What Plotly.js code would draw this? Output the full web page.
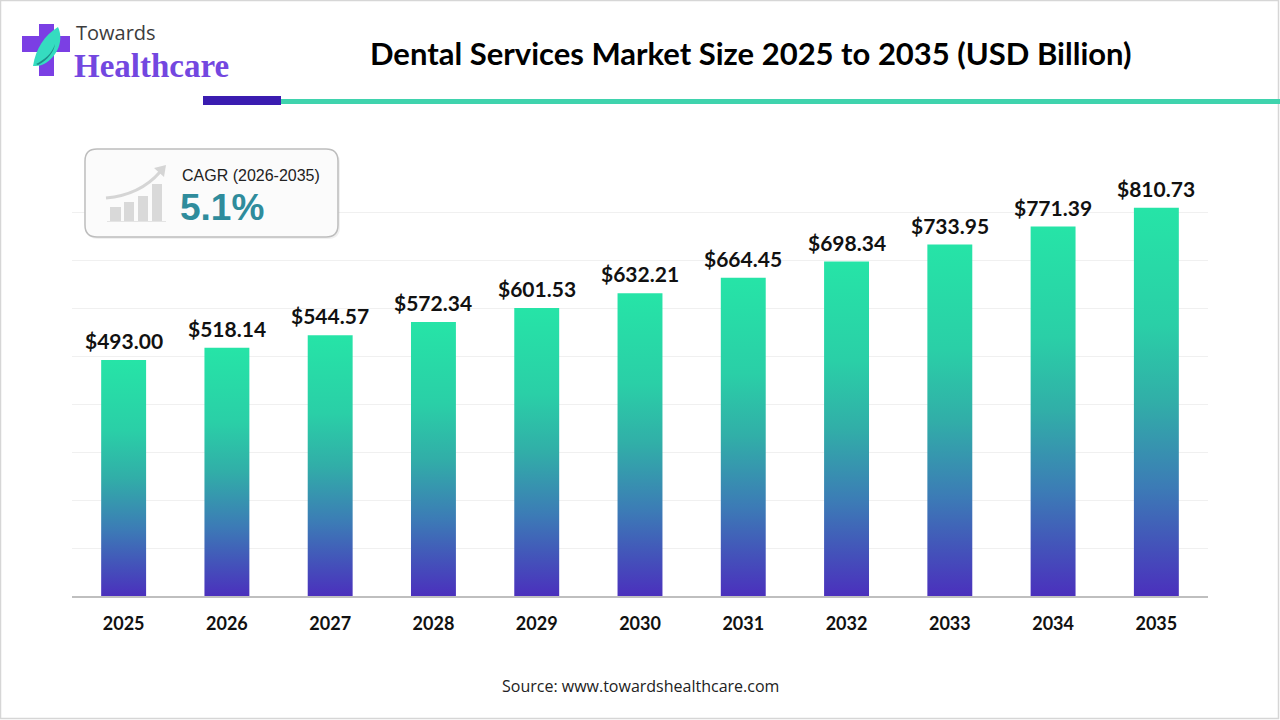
<!DOCTYPE html>
<html>
<head>
<meta charset="utf-8">
<script src="https://cdn.plot.ly/plotly-3.0.1.min.js"></script>
<style>
html,body{margin:0;padding:0;background:#fff;}
#chart{width:1280px;height:720px;}
</style>
</head>
<body>
<div id="chart"></div>
<script>
// ---- data ----
const years = ['2025','2026','2027','2028','2029','2030','2031','2032','2033','2034','2035'];
const marketSize = [493.00, 518.14, 544.57, 572.34, 601.53, 632.21, 664.45, 698.34, 733.95, 771.39, 810.73];
const cagrLabel = 'CAGR (2026-2035)';
const cagrValue = '5.1%';
const titleText = 'Dental Services Market Size 2025 to 2035 (USD Billion)';
const sourceText = 'Source: www.towardshealthcare.com';

// ---- layout geometry (pixels) ----
const W = 1280, H = 720;
const M = {l:72, r:72, t:165, b:124};
const PW = W - M.l - M.r, PH = H - M.t - M.b;
const px = x => (x - M.l) / PW;
const py = y => (H - M.b - y) / PH;
function pathPx(str){
  const toks = str.match(/[A-Za-z]|-?\d*\.?\d+/g);
  let out = [], isX = true;
  toks.forEach(t => {
    if (/[A-Za-z]/.test(t)) { out.push(t); isX = true; }
    else { const v = parseFloat(t); out.push((isX ? px(v) : py(v)).toFixed(5)); isX = !isX; }
  });
  return out.join(' ');
}
function roundRect(x0,y0,x1,y1,r){
  return `M ${x0+r} ${y0} L ${x1-r} ${y0} Q ${x1} ${y0} ${x1} ${y0+r} L ${x1} ${y1-r} Q ${x1} ${y1} ${x1-r} ${y1} L ${x0+r} ${y1} Q ${x0} ${y1} ${x0} ${y1-r} L ${x0} ${y0+r} Q ${x0} ${y0} ${x0+r} ${y0} Z`;
}
function rectShape(x0,y0,x1,y1,fill,line){
  return {type:'rect', xref:'paper', yref:'paper', x0:px(x0), x1:px(x1), y0:py(y1), y1:py(y0),
    fillcolor:fill, line: line || {width:0}, layer:'above'};
}
function pathShape(d, fill, line, layer){
  return {type:'path', xref:'paper', yref:'paper', path:pathPx(d), fillcolor:fill,
    line: line || {width:0}, layer: layer || 'above'};
}
function textAnn(x,y,text,font,xanchor,yanchor){
  return {xref:'paper', yref:'paper', x:px(x), y:py(y), text:text, showarrow:false,
    font:font, xanchor:xanchor||'left', yanchor:yanchor||'middle'};
}

const trace = {
  type:'bar', x:years, y:marketSize,
  marker:{color:'#2fb0a8', line:{width:0}},
  hoverinfo:'skip'
};

// value labels: category index positions (numeric-looking names would be read as indices)
const annotations = years.map((yr,i) => ({
  x: i, y: marketSize[i], xref:'x', yref:'y', text:'<b>$' + marketSize[i].toFixed(2) + '</b>',
  showarrow:false, yanchor:'bottom', yshift:5,
  font:{family:'Lato, "Open Sans", sans-serif', size:21, color:'#111111'}
}));

annotations.push(textAnn(751, 53, '<b>' + titleText + '</b>',
  {family:'Lato, "Open Sans", sans-serif', size:31, color:'#000000'}, 'center','middle'));
annotations.push(textAnn(640, 686, sourceText,
  {family:'"Open Sans", Lato, sans-serif', size:16, color:'#222222'}, 'center','middle'));
annotations.push(textAnn(74, 33, 'Towards',
  {family:'"Open Sans", Lato, sans-serif', size:20, color:'#3c3c3c'}, 'left','middle'));
annotations.push(textAnn(72, 66, '<b>Healthcare</b>',
  {family:'"Liberation Serif", "DejaVu Serif", serif', size:33, color:'#7347e0'}, 'left','middle'));
annotations.push(textAnn(180, 175, cagrLabel,
  {family:'"Liberation Sans", Arial, sans-serif', size:16, color:'#222222'}, 'left','middle'));
annotations.push(textAnn(178, 207, '<b>' + cagrValue + '</b>',
  {family:'"Liberation Sans", Arial, sans-serif', size:37, color:'#2f8c9c'}, 'left','middle'));

const shapes = [
  // outer frame
  {type:'rect', xref:'paper', yref:'paper', x0:px(0.5), x1:px(W-1.5), y0:py(H-1.5), y1:py(0.5),
    line:{color:'#d6d6d6', width:1.5}, fillcolor:'rgba(0,0,0,0)', layer:'above'},
  // header lines
  rectShape(281, 99, 1280, 104, '#3fd3ad'),
  rectShape(203, 96, 281, 105, '#3a1cb0'),
  // logo cross
  pathShape('M 39 24 L 54 24 L 54 36 L 70 36 L 70 52 L 54 52 L 54 76 L 39 76 L 39 52 L 22 52 L 22 36 L 39 36 Z', '#7b3fe4'),
  // logo leaf
  pathShape('M 33 66 C 36 48 44 36 58 27 C 64 40 58 56 44 64 C 40 66 36 66 33 66 Z', '#35dcc0'),
  pathShape('M 36 64 C 44 60 52 54 55 44 C 54 52 48 60 38 65 Z', '#1d8f8a'),
  // CAGR box shadow + box
  pathShape(roundRect(86, 151, 340, 239, 12), 'rgba(0,0,0,0.06)'),
  pathShape(roundRect(85, 149, 338, 237, 12), '#fbfbfb', {color:'#bdbdbd', width:1.5}),
  // CAGR icon bars
  rectShape(110, 207, 121, 221, '#d9d9d9'),
  rectShape(124, 202, 134, 221, '#d9d9d9'),
  rectShape(138, 196, 148, 221, '#d9d9d9'),
  rectShape(152, 184, 162, 221, '#d9d9d9'),
  rectShape(107, 221, 166, 222, '#e4e4e4'),
  // CAGR icon arrow
  pathShape('M 106 198 Q 140 195 160 172', 'rgba(0,0,0,0)', {color:'#d5d5d5', width:3}),
  pathShape('M 154 168 L 166 165 L 164 177 Z', '#d5d5d5')
];

const layout = {
  width:W, height:H,
  margin:{l:M.l, r:M.r, t:M.t, b:M.b, pad:0},
  paper_bgcolor:'#ffffff', plot_bgcolor:'#ffffff',
  showlegend:false,
  bargap:0.565,
  xaxis:{type:'category', range:[-0.5, years.length - 0.5], showline:true, linecolor:'#bfbfbf', linewidth:2,
    ticks:'', showgrid:false, zeroline:false, ticklabelstandoff:10,
    tickfont:{family:'Lato, "Open Sans", sans-serif', size:18, color:'#111111', weight:700},
    fixedrange:true},
  yaxis:{range:[0,900], dtick:100, showgrid:true, gridcolor:'#f0f0f0', gridwidth:1,
    showticklabels:false, zeroline:false, showline:false, ticks:'', fixedrange:true},
  annotations:annotations,
  shapes:shapes
};

Plotly.newPlot('chart', [trace], layout, {displayModeBar:false, staticPlot:true}).then(gd => {
  const svg = gd.querySelector('svg.main-svg');
  const ns = 'http://www.w3.org/2000/svg';
  let defs = svg.querySelector('defs');
  if (!defs) { defs = document.createElementNS(ns,'defs'); svg.insertBefore(defs, svg.firstChild); }
  const grad = document.createElementNS(ns,'linearGradient');
  grad.setAttribute('id','barGrad');
  grad.setAttribute('x1','0'); grad.setAttribute('y1','0');
  grad.setAttribute('x2','0'); grad.setAttribute('y2','1');
  [[0,'#26e4a7'],[0.3,'#2acfa7'],[0.5,'#31aea8'],[0.72,'#3c7bb6'],[0.88,'#4450ba'],[1,'#4b30bd']].forEach(s => {
    const st = document.createElementNS(ns,'stop');
    st.setAttribute('offset', s[0]); st.setAttribute('stop-color', s[1]);
    grad.appendChild(st);
  });
  defs.appendChild(grad);
  gd.querySelectorAll('.bars .point path').forEach(p => { p.style.fill = 'url(#barGrad)'; p.style.opacity = 1; });
});
</script>
</body>
</html>
